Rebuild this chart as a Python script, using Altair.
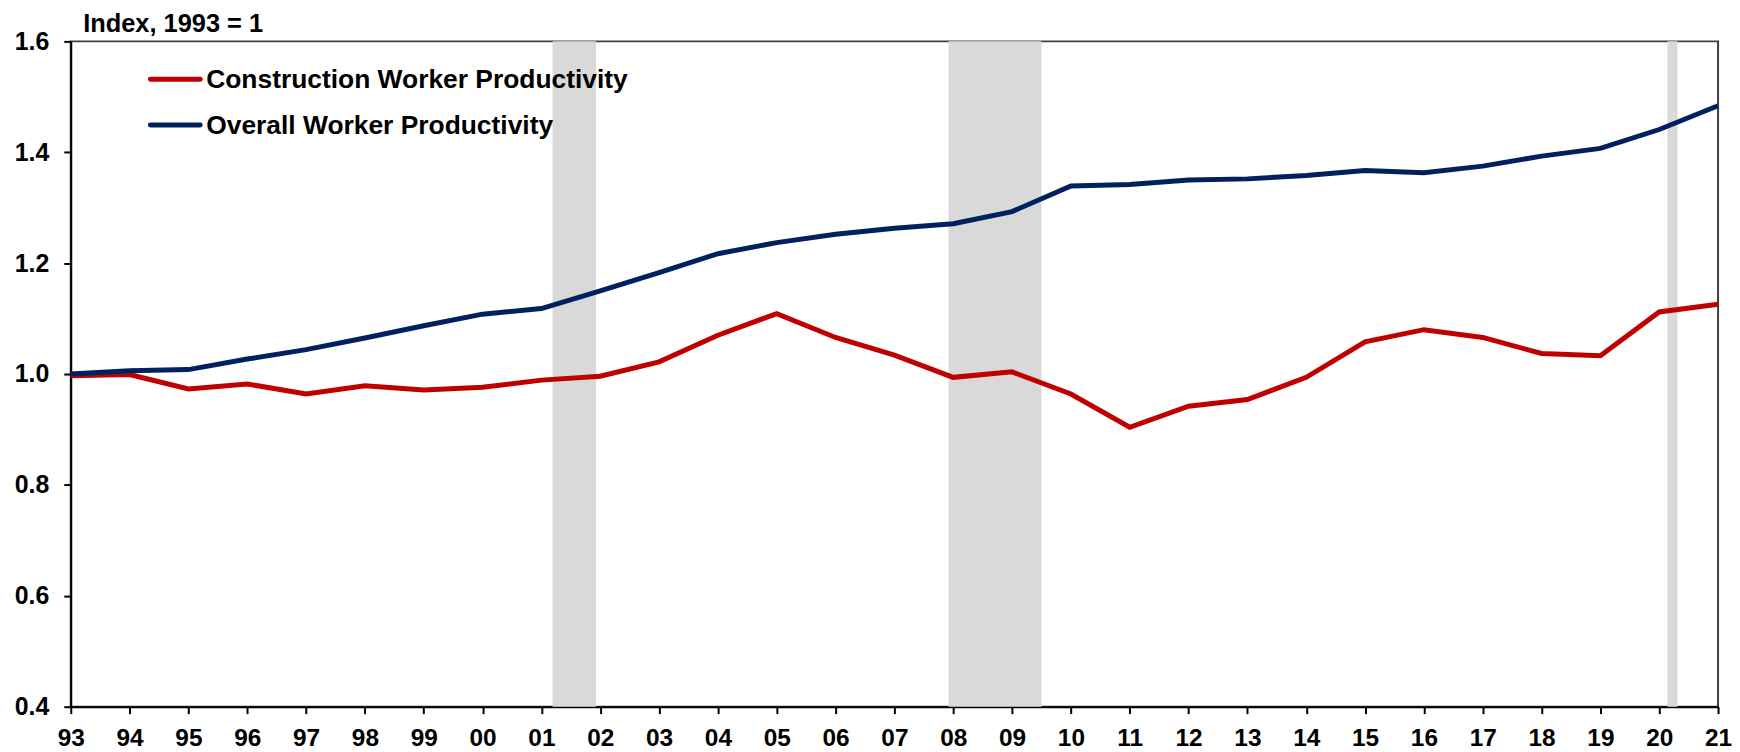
import altair as alt
import pandas as pd

years = list(range(1993, 2022))
series_names = ["Construction Worker Productivity", "Overall Worker Productivity"]
series_colors = ["#C00000", "#002060"]
construction = [0.997, 0.999, 0.973, 0.982, 0.964, 0.979, 0.971, 0.976, 0.989, 0.996,
                1.022, 1.070, 1.109, 1.066, 1.034, 0.994, 1.004, 0.964, 0.904, 0.942,
                0.954, 0.994, 1.058, 1.080, 1.066, 1.037, 1.033, 1.112, 1.126]
overall = [1.000, 1.006, 1.008, 1.027, 1.044, 1.065, 1.087, 1.108, 1.118, 1.150,
           1.183, 1.217, 1.237, 1.252, 1.263, 1.271, 1.293, 1.339, 1.342, 1.350,
           1.352, 1.358, 1.367, 1.363, 1.375, 1.393, 1.407, 1.441, 1.484]
rec_start = [2001.19, 2007.92, 2020.14]
rec_end = [2001.93, 2009.50, 2020.31]
y_ticks = [0.4, 0.6, 0.8, 1.0, 1.2, 1.4, 1.6]
y_title = "Index, 1993 = 1"

FONT = "Liberation Sans"

df = pd.DataFrame({
    "year": years * 2,
    "value": construction + overall,
    "series": [series_names[0]] * len(years) + [series_names[1]] * len(years),
})
rec = pd.DataFrame({"start": rec_start, "end": rec_end})

xscale = alt.Scale(domain=[1993, 2021], nice=False, zero=False)
yscale = alt.Scale(domain=[0.4, 1.6], nice=False, zero=False)

xaxis = alt.Axis(values=years, labelExpr="substring(toString(datum.value), 2)",
                 grid=False, domainColor="black", domainWidth=2, tickColor="black",
                 tickWidth=2, tickSize=7, labelFontSize=24.5, labelFont=FONT,
                 labelFontWeight="bold", labelColor="black", labelPadding=13,
                 labelFlush=False, labelOverlap=False, title=None)
yaxis = alt.Axis(values=y_ticks, format=".1f", grid=False, domainColor="black",
                 domainWidth=2, tickColor="black", tickWidth=2, tickSize=7,
                 labelFontSize=25, labelFont=FONT, labelFontWeight="bold",
                 labelColor="black", labelPadding=15,
                 title=y_title, titleAngle=0, titleX=12, titleY=-10,
                 titleAlign="left", titleBaseline="alphabetic", titleFont=FONT,
                 titleFontSize=25.5, titleFontWeight="bold", titleColor="black")

bands = alt.Chart(rec).mark_rect(color="#D9D9D9").encode(
    x=alt.X("start:Q", scale=xscale, axis=xaxis),
    x2="end:Q",
    y=alt.datum(1.6, scale=yscale, axis=yaxis),
    y2=alt.datum(0.4),
)

lines = alt.Chart(df).mark_line(strokeWidth=5, strokeJoin="miter").encode(
    x=alt.X("year:Q", scale=xscale, axis=xaxis),
    y=alt.Y("value:Q", scale=yscale, axis=yaxis),
    color=alt.Color("series:N", scale=alt.Scale(domain=series_names, range=series_colors),
                    legend=None),
)

legend_layers = []
for i, (name, col) in enumerate(zip(series_names, series_colors)):
    ypix = 38 + i * 46
    legend_layers.append(
        alt.Chart(pd.DataFrame({"s": [name]})).mark_rule(
            color=col, strokeWidth=5, strokeCap="round").encode(
            x=alt.value(80), x2=alt.value(130), y=alt.value(ypix))
    )
    legend_layers.append(
        alt.Chart(pd.DataFrame({"s": [name]})).mark_text(
            align="left", baseline="middle", font=FONT, fontSize=26.5,
            fontWeight="bold", color="black").encode(
            x=alt.value(136), y=alt.value(ypix + 1), text="s:N")
    )

chart = alt.layer(bands, lines, *legend_layers).properties(
    width=1654, height=668,
    autosize=alt.AutoSizeParams(type="none"),
    padding={"left": 63, "top": 32, "right": 14, "bottom": 44},
).configure_view(stroke="#404040", strokeWidth=2)

chart.save("out.html", embed_options={"renderer": "svg", "actions": False})
